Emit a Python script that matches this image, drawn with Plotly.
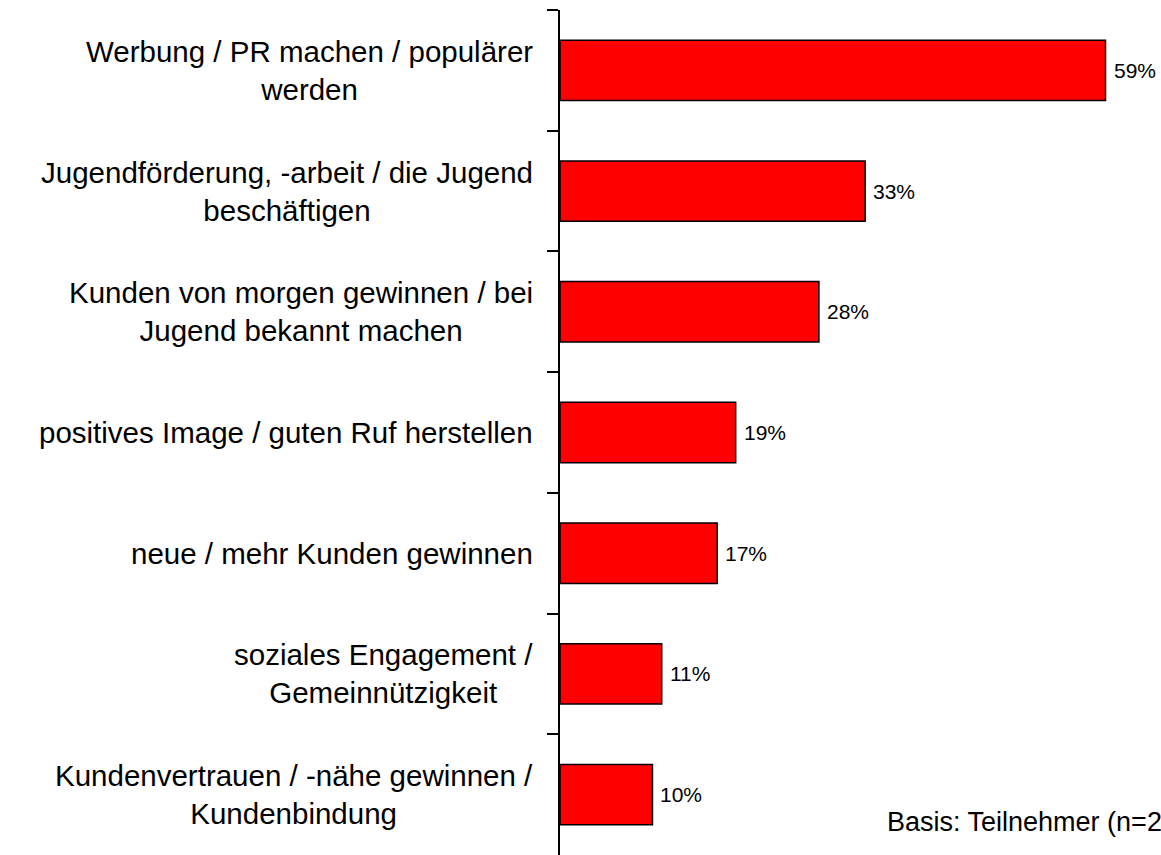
import plotly.graph_objects as go

categories = [
    "Werbung / PR machen / populärer<br>werden",
    "Jugendförderung, -arbeit / die Jugend<br>beschäftigen",
    "Kunden von morgen gewinnen / bei<br>Jugend bekannt machen",
    "positives Image / guten Ruf herstellen",
    "neue / mehr Kunden gewinnen",
    "soziales Engagement /<br>Gemeinnützigkeit",
    "Kundenvertrauen / -nähe gewinnen /<br>Kundenbindung",
]
values = [59, 33, 28, 19, 17, 11, 10]
value_labels = [f"{v}%" for v in values]
note = "Basis: Teilnehmer (n=250)"

FONT = "Liberation Sans, Arial, sans-serif"

fig = go.Figure()
fig.add_trace(go.Bar(
    y=categories,
    x=values,
    orientation="h",
    width=0.5,
    marker=dict(color="#FF0000", line=dict(color="black", width=1.5)),
    hoverinfo="x+y",
))

# category labels (centered multi-line, right edge near the axis)
for c in categories:
    fig.add_annotation(
        x=0, xref="paper", y=c, yref="y",
        text=c, showarrow=False,
        xanchor="right", yanchor="middle", align="center",
        xshift=-25,
        font=dict(family=FONT, size=29.5, color="black"),
    )

# value labels
for c, v, lab in zip(categories, values, value_labels):
    fig.add_annotation(
        x=v, xref="x", y=c, yref="y",
        text=lab, showarrow=False,
        xanchor="left", yanchor="middle",
        xshift=6,
        font=dict(family=FONT, size=21, color="black"),
    )

fig.add_annotation(
    x=(885 - 560) / 601, xref="paper", y=(855 - 822) / 845, yref="paper",
    text=note, showarrow=False, xanchor="left", yanchor="middle",
    font=dict(family=FONT, size=27, color="black"),
)

fig.update_layout(
    width=1161, height=855,
    margin=dict(l=560, r=0, t=10, b=0),
    paper_bgcolor="white", plot_bgcolor="white",
    showlegend=False,
)
fig.update_xaxes(range=[0, 65], visible=False, showgrid=False, zeroline=False)
fig.update_yaxes(
    autorange="reversed",
    showticklabels=False,
    showline=True, linecolor="black", linewidth=1.5,
    ticks="outside", ticklen=11, tickwidth=1.5, tickcolor="black",
    tickson="boundaries",
    showgrid=False,
)

fig.write_html(
    "out.html",
    config={"displayModeBar": False},
    post_script="document.body.style.margin='0';document.body.style.overflow='hidden';",
)
